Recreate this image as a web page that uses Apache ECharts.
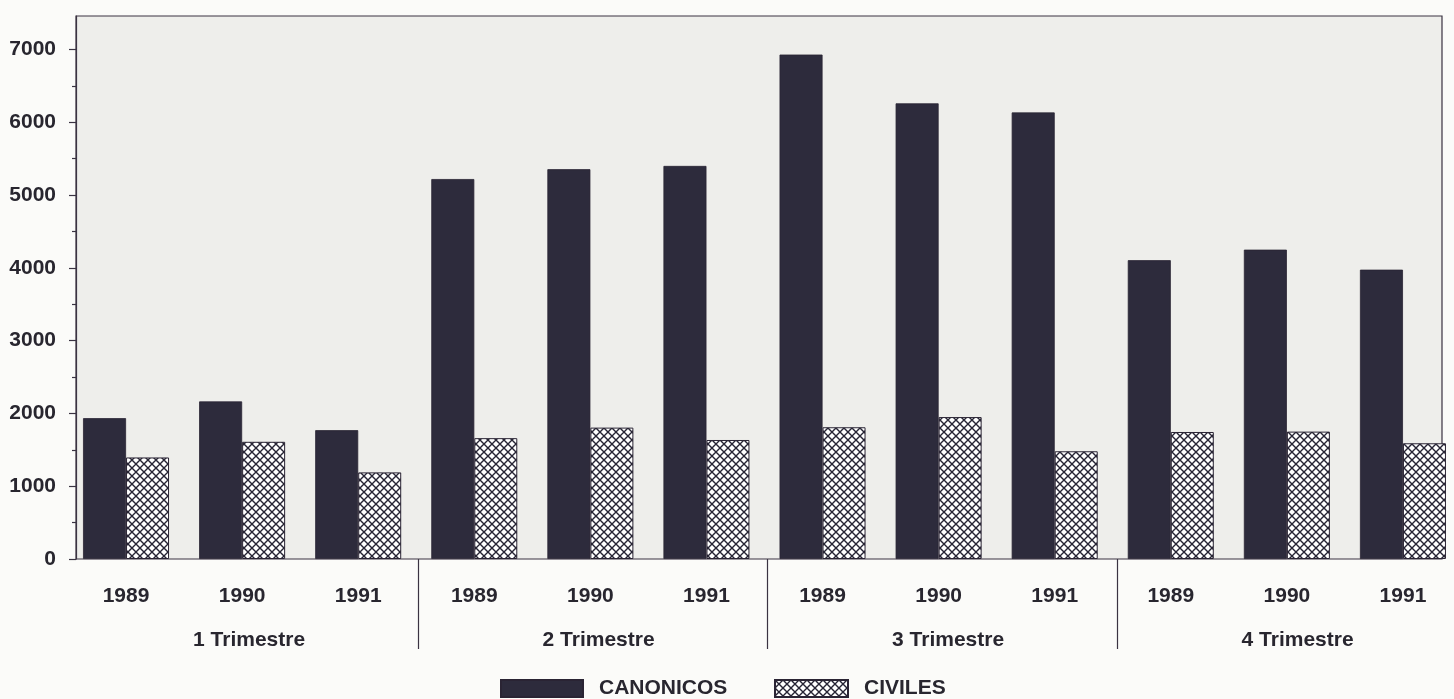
<!DOCTYPE html>
<html>
<head>
<meta charset="utf-8">
<script src="https://cdn.jsdelivr.net/npm/echarts@6/dist/echarts.min.js"></script>
<style>
html,body{margin:0;padding:0;background:#fbfbf9;}
#c{width:1454px;height:699px;}
</style>
</head>
<body>
<div id="c"></div>
<script>
const years = ['1989','1990','1991','1989','1990','1991','1989','1990','1991','1989','1990','1991'];
const quarters = ['1 Trimestre','2 Trimestre','3 Trimestre','4 Trimestre'];
const canonicos = [1935, 2165, 1770, 5220, 5355, 5400, 6930, 6260, 6135, 4105, 4250, 3975];
const civiles = [1395, 1610, 1190, 1660, 1805, 1635, 1810, 1950, 1480, 1745, 1750, 1590];
const yMajor = [0, 1000, 2000, 3000, 4000, 5000, 6000, 7000];
const yMinor = [500, 1500, 2500, 3500, 4500, 5500, 6500];
const quarterBreaks = [3, 6, 9];
const quarterLabelPos = [1.55, 4.55, 7.55, 10.55];

const dark = '#2d2b3c';
const txt = '#28262f';

function hatch() {
  const s = 8;
  const cv = document.createElement('canvas');
  cv.width = s; cv.height = s;
  const ctx = cv.getContext('2d');
  ctx.fillStyle = '#ffffff';
  ctx.fillRect(0, 0, s, s);
  ctx.strokeStyle = '#262434';
  ctx.lineWidth = 1.4;
  ctx.beginPath();
  ctx.moveTo(-1, -1); ctx.lineTo(s + 1, s + 1);
  ctx.moveTo(s + 1, -1); ctx.lineTo(-1, s + 1);
  ctx.stroke();
  return cv;
}

const font = {fontFamily: 'Liberation Sans', fontWeight: 'bold', fontSize: 21, color: txt};
const YMAX = 7460;

const chart = echarts.init(document.getElementById('c'), null, {renderer: 'canvas'});
chart.setOption({
  animation: false,
  backgroundColor: '#fbfbf9',
  grid: [
    {left: 76, width: 1366, top: 16, height: 543, show: true, backgroundColor: '#eeeeeb', borderColor: '#3a3342', borderWidth: 1.2, outerBoundsMode: 'none', containLabel: false},
    {left: 68, width: 1393, top: 16, height: 543, show: false, outerBoundsMode: 'none', containLabel: false},
    {left: 68.5, width: 1398, top: 16, height: 543, show: false, outerBoundsMode: 'none', containLabel: false}
  ],
  legend: [
    {data: [{name: 'CANONICOS', icon: 'rect'}], left: 500, top: 678, itemWidth: 82, itemHeight: 17, padding: 0,
     textStyle: Object.assign({}, font, {padding: [0, 0, 0, 11]})},
    {data: [{name: 'CIVILES', icon: 'rect'}], left: 774, top: 678, itemWidth: 73, itemHeight: 17, padding: 0,
     textStyle: Object.assign({}, font, {padding: [0, 0, 0, 11]})}
  ],
  xAxis: [
    {gridIndex: 0, type: 'category', data: [''], show: false},
    {gridIndex: 1, type: 'category', data: years, axisLine: {show: false}, axisTick: {show: false},
     axisLabel: Object.assign({}, font, {margin: 27, interval: 0})},
    {gridIndex: 2, type: 'value', min: 0, max: 12, position: 'bottom',
     axisLine: {show: false}, splitLine: {show: false},
     axisTick: {show: true, customValues: quarterBreaks, length: 90, lineStyle: {color: '#3a3342', width: 1.2}},
     axisLabel: Object.assign({}, font, {margin: 71, customValues: quarterLabelPos,
       formatter: function (v) { return quarters[quarterLabelPos.indexOf(v)]; }})}
  ],
  yAxis: [
    {gridIndex: 0, type: 'value', min: 0, max: YMAX,
     axisLine: {show: true, lineStyle: {color: '#3a3342', width: 1.2}},
     splitLine: {show: false},
     axisTick: {show: true, customValues: yMajor, length: 7, lineStyle: {color: '#3a3342', width: 1.2}},
     axisLabel: Object.assign({}, font, {margin: 20, customValues: yMajor,
       formatter: function (v) { return String(v); }})},
    {gridIndex: 0, type: 'value', min: 0, max: YMAX, position: 'left',
     axisLine: {show: false}, splitLine: {show: false}, axisLabel: {show: false},
     axisTick: {show: true, customValues: yMinor, length: 4, lineStyle: {color: '#3a3342', width: 1.2}}},
    {gridIndex: 1, type: 'value', min: 0, max: YMAX, show: false},
    {gridIndex: 2, type: 'value', min: 0, max: YMAX, show: false}
  ],
  series: [
    {name: 'CANONICOS', type: 'bar', xAxisIndex: 1, yAxisIndex: 2, data: canonicos,
     barWidth: 43, barGap: '0%',
     itemStyle: {color: dark, borderColor: '#2a2434', borderWidth: 0.8}},
    {name: 'CIVILES', type: 'bar', xAxisIndex: 1, yAxisIndex: 2, data: civiles,
     barWidth: 43, barGap: '0%',
     itemStyle: {color: {image: hatch(), repeat: 'repeat'}, borderColor: '#2a2434', borderWidth: 1}}
  ]
});
</script>
</body>
</html>
